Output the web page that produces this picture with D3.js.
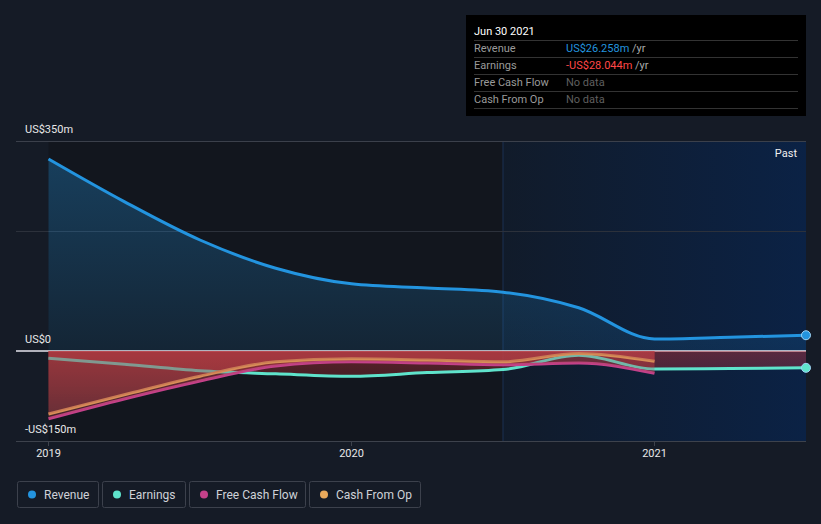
<!DOCTYPE html>
<html><head><meta charset="utf-8">
<script src="https://cdn.jsdelivr.net/npm/d3@7"></script>
<style>
html,body{margin:0;padding:0;background:#151b26;}
svg{display:block;font-family:Roboto,"Noto Sans",sans-serif;}
</style></head>
<body><svg id="c" width="821" height="524"></svg>
<script>
const quarters = [2019, 2019.25, 2019.5, 2019.75, 2020, 2020.25, 2020.5, 2020.75, 2021, 2021.25, 2021.5];
const revenue  = [320, 249, 185, 138, 112, 105, 98, 72, 20, 23, 26.258];
const earnings = [-12, -22, -33, -38, -42, -36, -31, -7, -30, -29, -28.044];
const fcf      = [-113, -80, -50, -25, -18, -20, -23, -20, -37, null, null];
const cfo      = [-105, -73, -42, -18, -13, -15, -18, -4, -17, null, null];
const yTicks = [350, 0, -150];
const yTickLabels = ["US$350m", "US$0", "-US$150m"];
const xTicks = [2019, 2020, 2021];
const seriesNames = ["Revenue", "Earnings", "Free Cash Flow", "Cash From Op"];
const seriesColors = ["#2394df", "#5fe3cb", "#c4418a", "#e9a95b"];
const tipDate = "Jun 30 2021";
const tipRows = [["Revenue","US$26.258m"],["Earnings","-US$28.044m"],["Free Cash Flow","No data"],["Cash From Op","No data"]];

const svg = d3.select("#c");
const x = d3.scaleLinear().domain([2019, 2021.5]).range([48.5, 806]);
const y = d3.scaleLinear().domain([-150, 350]).range([441, 141]);
const defs = svg.append("defs");

// backgrounds
svg.append("rect").attr("x",0).attr("y",0).attr("width",821).attr("height",524).attr("fill","#151b26");
svg.append("rect").attr("x",x(2019)).attr("y",y(350)).attr("width",x(2020.5)-x(2019)).attr("height",y(-150)-y(350)).attr("fill","#12161e");
const pg = defs.append("linearGradient").attr("id","pastg").attr("x1","0").attr("x2","1").attr("y1","0").attr("y2","0");
pg.append("stop").attr("offset","0").attr("stop-color","#111b2a");
pg.append("stop").attr("offset","1").attr("stop-color","#0b2245");
svg.append("rect").attr("x",x(2020.5)).attr("y",y(350)).attr("width",x(2021.5)-x(2020.5)).attr("height",y(-150)-y(350)).attr("fill","url(#pastg)");
svg.append("line").attr("x1",x(2020.5)).attr("x2",x(2020.5)).attr("y1",y(350)).attr("y2",y(-150)).attr("stroke","#1a3152").attr("stroke-width",1);

// gridlines
svg.append("line").attr("x1",16).attr("x2",806).attr("y1",y(350)+0.5).attr("y2",y(350)+0.5).attr("stroke","#3b404b");
svg.append("line").attr("x1",16).attr("x2",806).attr("y1",y(200)+0.5).attr("y2",y(200)+0.5).attr("stroke","#2c313b");
svg.append("line").attr("x1",16).attr("x2",806).attr("y1",y(-150)+0.5).attr("y2",y(-150)+0.5).attr("stroke","#3d424c");

const pts = arr => quarters.map((q,i)=>({q, v: arr[i]})).filter(d=>d.v!==null);
const curve = d3.curveMonotoneX;

// revenue area
const rg = defs.append("linearGradient").attr("id","revg").attr("gradientUnits","userSpaceOnUse").attr("x1",0).attr("x2",0).attr("y1",y(320)).attr("y2",y(0));
rg.append("stop").attr("offset","0").attr("stop-color","#2394df").attr("stop-opacity",0.32);
rg.append("stop").attr("offset","1").attr("stop-color","#2394df").attr("stop-opacity",0.12);
svg.append("path").datum(pts(revenue)).attr("fill","url(#revg)")
  .attr("d", d3.area().x(d=>x(d.q)).y0(y(0)).y1(d=>y(d.v)).curve(curve));

// zero line
svg.append("line").attr("x1",16).attr("x2",806).attr("y1",y(0)).attr("y2",y(0)).attr("stroke","#e6e6ee").attr("stroke-width",1.5);

// negative areas below lines
const ng = defs.append("linearGradient").attr("id","negg").attr("gradientUnits","userSpaceOnUse").attr("x1",0).attr("x2",0).attr("y1",y(0)).attr("y2",y(-120));
ng.append("stop").attr("offset","0").attr("stop-color","#d0343a").attr("stop-opacity",0.4);
ng.append("stop").attr("offset","1").attr("stop-color","#d0343a").attr("stop-opacity",0.05);
const negArea = d3.area().x(d=>x(d.q)).y0(y(0)).y1(d=>y(Math.min(0,d.v))).curve(curve);
[earnings, fcf, cfo].forEach(arr=>{
  svg.append("path").datum(pts(arr)).attr("fill","url(#negg)").attr("d", negArea);
});

// lines
const line = d3.line().x(d=>x(d.q)).y(d=>y(d.v)).curve(curve);
[revenue, earnings, fcf, cfo].forEach((arr,i)=>{
  svg.append("path").datum(pts(arr)).attr("fill","none").attr("stroke",seriesColors[i]).attr("stroke-width",3).attr("d",line);
});

// light overlay of cash areas (tints lines that lie inside them)
[fcf, cfo].forEach(arr=>{
  svg.append("path").datum(pts(arr)).attr("fill","#a8484c").attr("fill-opacity",0.27).attr("d", negArea);
});

// end dots
[[revenue,0],[earnings,1]].forEach(([arr,i])=>{
  const last = pts(arr).slice(-1)[0];
  svg.append("circle").attr("cx",x(last.q)).attr("cy",y(last.v)).attr("r",4.5).attr("fill",seriesColors[i]).attr("stroke","#9fd3f5").attr("stroke-width",1);
});

// y labels
yTicks.forEach((t,i)=>{
  svg.append("text").attr("x",25).attr("y",y(t)-8).attr("fill","#e8e8e8").attr("font-size",11).text(yTickLabels[i]);
});
// x axis
xTicks.forEach(t=>{
  svg.append("line").attr("x1",x(t)).attr("x2",x(t)).attr("y1",y(-150)+1).attr("y2",y(-150)+5).attr("stroke","#3d424c");
  svg.append("text").attr("x",x(t)).attr("y",457).attr("text-anchor","middle").attr("fill","#e8e8e8").attr("font-size",11).text(t);
});

svg.append("text").attr("x",797).attr("y",157).attr("text-anchor","end").attr("fill","#f0f0f0").attr("font-size",11).text("Past");

// tooltip
const tip = svg.append("g");
tip.append("rect").attr("x",466).attr("y",15).attr("width",340).attr("height",101).attr("fill","#000");
tip.append("text").attr("x",474).attr("y",35).attr("fill","#fff").attr("font-size",11).text(tipDate);
tipRows.forEach((r,i)=>{
  const yy = 40 + i*17;
  tip.append("line").attr("x1",474).attr("x2",798).attr("y1",yy+0.5).attr("y2",yy+0.5).attr("stroke","#333");
  tip.append("text").attr("x",474).attr("y",yy+12).attr("fill","#9a9a9a").attr("font-size",11).text(r[0]);
  const t = tip.append("text").attr("x",566).attr("y",yy+12).attr("font-size",11);
  if (r[1]==="No data") t.append("tspan").attr("fill","#5f5f5f").text(r[1]);
  else {
    t.append("tspan").attr("fill", i===0 ? "#2394df" : "#ff4747").text(r[1]);
    t.append("tspan").attr("fill","#aaa").text(" /yr");
  }
});
tip.append("line").attr("x1",474).attr("x2",798).attr("y1",108.5).attr("y2",108.5).attr("stroke","#333");

// legend
const legX = [17, 102, 189, 309], legW = [81, 83, 116, 111];
seriesNames.forEach((n,i)=>{
  const g = svg.append("g");
  g.append("rect").attr("x",legX[i]+0.5).attr("y",481.5).attr("width",legW[i]).attr("height",26).attr("rx",2).attr("fill","none").attr("stroke","#3c414c");
  g.append("circle").attr("cx",legX[i]+15).attr("cy",494.5).attr("r",4).attr("fill",seriesColors[i]);
  g.append("text").attr("x",legX[i]+27).attr("y",498.5).attr("fill","#cfd2d8").attr("font-size",12).text(n);
});
</script></body></html>
